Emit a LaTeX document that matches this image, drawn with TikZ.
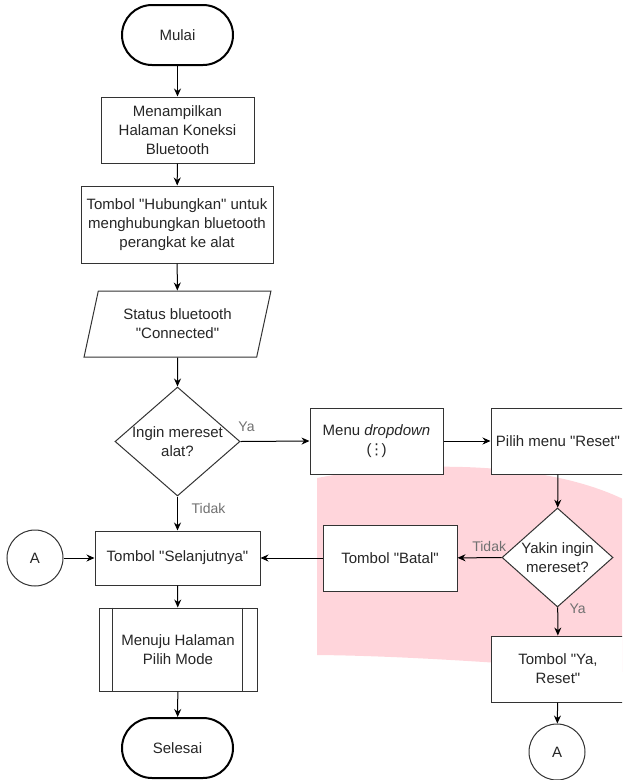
\documentclass[tikz,border=0pt]{standalone}
\usepackage{fontspec}
\setmainfont{Liberation Sans}[Ligatures=TeXOff]
\newfontfamily\symfont{DejaVu Sans}
\usetikzlibrary{shapes.geometric, arrows.meta}
\definecolor{linecol}{HTML}{333333}
\definecolor{textcol}{HTML}{262626}
\definecolor{lblcol}{HTML}{707070}
\definecolor{resetpink}{HTML}{FFD5DB}

\begin{document}
\begin{tikzpicture}[x=1pt, y=-1pt, font=\fontsize{15}{19}\selectfont, text=textcol]
% Define flowchart styles
\tikzstyle{terminal} = [rectangle, rounded corners=30pt, draw=black, line width=2pt, fill=white, minimum width=111pt, minimum height=60pt]
\tikzstyle{process} = [rectangle, draw=linecol, line width=1pt, fill=white, align=center, inner sep=0pt, minimum height=66pt]
\tikzstyle{io} = [trapezium, trapezium stretches=true, trapezium left angle=72, trapezium right angle=108, draw=linecol, line width=1pt, fill=white, align=center, inner sep=0pt, minimum width=187pt, minimum height=66pt]
\tikzstyle{decision} = [diamond, draw=linecol, line width=1pt, fill=white, inner sep=0pt]
\tikzstyle{connector} = [circle, draw=linecol, line width=1pt, fill=white, minimum size=56pt, inner sep=0pt]
\tikzstyle{arrow} = [-{Stealth[length=8pt, width=7pt]}, line width=1pt, draw=black]
\tikzstyle{lbl} = [font=\fontsize{14}{16}\selectfont, text=lblcol, inner sep=0pt]
\useasboundingbox (0,0) rectangle (622,780);
\clip (0,0) rectangle (622,780);
% Reset area (background)
\fill[resetpink] (317,478) .. controls (400,462) and (540,458) .. (625,500) -- (625,672) .. controls (540,666) and (420,656) .. (317,655) -- cycle;
% Define nodes (main column)
\node[terminal] (mulai) at (177.5,35) {Mulai};
\node[process, minimum width=153pt] (tampil) at (177.5,130) {Menampilkan\\Halaman Koneksi\\Bluetooth};
\node[process, minimum width=192pt, minimum height=77pt] (hubung) at (177,224.5) {Tombol "Hubungkan" untuk\\menghubungkan bluetooth\\perangkat ke alat};
\node[io] (status) at (177.5,324) {Status bluetooth\\"Connected"};
\node[decision, minimum width=125pt, minimum height=109pt, label={[align=center]center:Ingin mereset\\alat?}] (ingin) at (177.5,441.5) {};
\node[process, minimum width=165pt, minimum height=54pt] (lanjut) at (177.5,558) {Tombol "Selanjutnya"};
\node[process, minimum width=158pt, minimum height=83pt] (mode) at (178,649.5) {Menuju Halaman\\Pilih Mode};
\node[terminal] (selesai) at (177.5,748) {Selesai};
\node[connector] (konA) at (35,558) {A};
% Define nodes (reset branch)
\node[process, minimum width=133pt] (dropdown) at (376.5,441) {Menu \textit{dropdown}\\({\symfont\kern-2.5pt ⋮\kern-2.5pt})};
\node[process, minimum width=134pt] (reset) at (558,441) {Pilih menu "Reset"};
\node[decision, minimum width=111pt, minimum height=99pt, label={[align=center]center:Yakin ingin\\mereset?}] (yakin) at (557.5,557.5) {};
\node[process, minimum width=134pt] (batal) at (390,558) {Tombol "Batal"};
\node[process, minimum width=134pt] (yareset) at (558,669) {Tombol "Ya,\\Reset"};
\node[connector] (konB) at (557,752) {A};
% Subprocess bars
\draw[draw=linecol, line width=1pt] ([xshift=14pt]mode.north west) -- ([xshift=14pt]mode.south west);
\draw[draw=linecol, line width=1pt] ([xshift=-15pt]mode.north east) -- ([xshift=-15pt]mode.south east);
% Relationships (arrows)
\draw[arrow] (mulai) -- (tampil);
\draw[arrow] (tampil) -- (hubung);
\draw[arrow] (hubung) -- (status);
\draw[arrow] (status) -- (ingin);
\draw[arrow] (ingin.east) -- node[lbl, pos=0, xshift=6pt, yshift=15pt] {Ya} (dropdown.west);
\draw[arrow] (ingin) -- node[lbl, pos=0, xshift=31pt, yshift=-12pt] {Tidak} (lanjut);
\draw[arrow] (dropdown) -- (reset);
\draw[arrow] (reset) -- (yakin);
\draw[arrow] (yakin) -- node[lbl, pos=0, xshift=-12.5pt, yshift=11pt] {Tidak} (batal);
\draw[arrow] (batal) -- (lanjut);
\draw[arrow] (yakin) -- node[lbl, pos=0, xshift=20pt, yshift=-1pt] {Ya} (yareset);
\draw[arrow] (yareset) -- (konB);
\draw[arrow] (konA) -- (lanjut);
\draw[arrow] (lanjut) -- (mode);
\draw[arrow] (mode) -- (selesai);
\end{tikzpicture}
\end{document}
